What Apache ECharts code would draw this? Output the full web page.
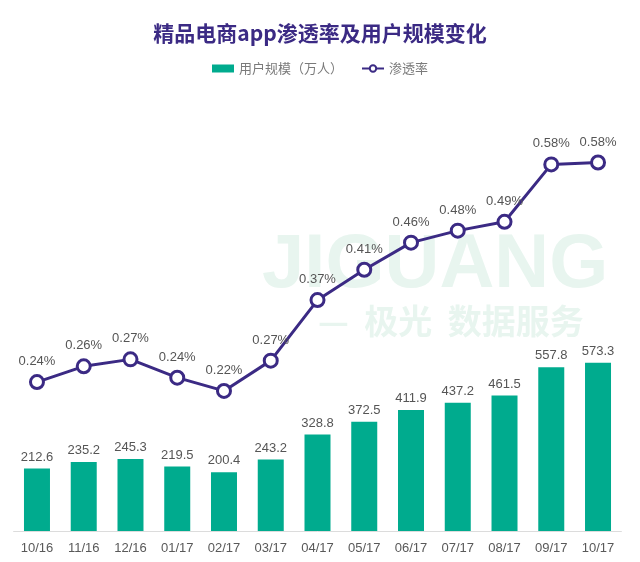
<!DOCTYPE html>
<html><head><meta charset="utf-8">
<script src="https://cdn.jsdelivr.net/npm/echarts@6/dist/echarts.min.js"></script>
<style>html,body{margin:0;padding:0;background:#fff}#c{width:640px;height:562px}</style>
</head><body><div id="c"></div>
<script>
const categories = ['10/16','11/16','12/16','01/17','02/17','03/17','04/17','05/17','06/17','07/17','08/17','09/17','10/17'];
const users = [212.6,235.2,245.3,219.5,200.4,243.2,328.8,372.5,411.9,437.2,461.5,557.8,573.3];
const penetration = [0.236,0.261,0.272,0.243,0.222,0.270,0.366,0.414,0.457,0.476,0.490,0.581,0.584];

const FONT = '"Liberation Sans","Noto Sans CJK SC",sans-serif';
const chart = echarts.init(document.getElementById('c'), null, {renderer:'canvas'});
chart.setOption({
  backgroundColor:'#ffffff',
  animation:false,
  title:{
    text:'精品电商app渗透率及用户规模变化',
    left:'center', top:18,
    textStyle:{color:'#3b2a84', fontSize:21, fontWeight:'bold', fontFamily:'"Noto Sans CJK SC",sans-serif'}
  },
  legend:{
    top:57, left:'center', itemGap:18, itemWidth:22, itemHeight:8,
    textStyle:{color:'#7a7a7a', fontSize:13, fontFamily:'"Noto Sans CJK SC",sans-serif'},
    data:[{name:'用户规模（万人）', icon:'rect'}, {name:'渗透率'}]
  },
  graphic:[
    {type:'text', left:262, top:228, z:-10, silent:true,
     style:{text:'JIGUANG', fill:'#e8f5ef', font:'bold 76px "Liberation Sans",sans-serif'}},
    {type:'text', left:318, top:304, z:-10, silent:true,
     style:{text:'—  极光  数据服务', fill:'#e8f5ef', font:'bold 34px "Noto Sans CJK SC",sans-serif'}}
  ],
  grid:{left:13.6, right:18.6, top:90.75, bottom:31},
  xAxis:{
    type:'category', data:categories,
    axisLine:{lineStyle:{color:'#dcdcdc'}},
    axisTick:{show:false},
    axisLabel:{color:'#595959', fontSize:13, fontFamily:FONT, margin:11}
  },
  yAxis:[
    {type:'value', min:0, max:1500, show:false, splitLine:{show:false}},
    {type:'value', min:0, max:0.6977, show:false, splitLine:{show:false}}
  ],
  series:[
    {
      name:'用户规模（万人）', type:'bar', data:users, barWidth:26, yAxisIndex:0,
      itemStyle:{color:'#00ab8e'},
      label:{show:true, position:'top', color:'#555555', fontSize:13, fontFamily:FONT, distance:5}
    },
    {
      name:'渗透率', type:'line', data:penetration, yAxisIndex:1,
      symbol:'circle', symbolSize:13,
      lineStyle:{color:'#3b2a84', width:3},
      itemStyle:{color:'#ffffff', borderColor:'#3b2a84', borderWidth:3},
      label:{show:true, position:'top', color:'#555555', fontSize:13, fontFamily:FONT, distance:6,
        formatter:p=>p.value.toFixed(2)+'%'}
    }
  ]
});
</script></body></html>
